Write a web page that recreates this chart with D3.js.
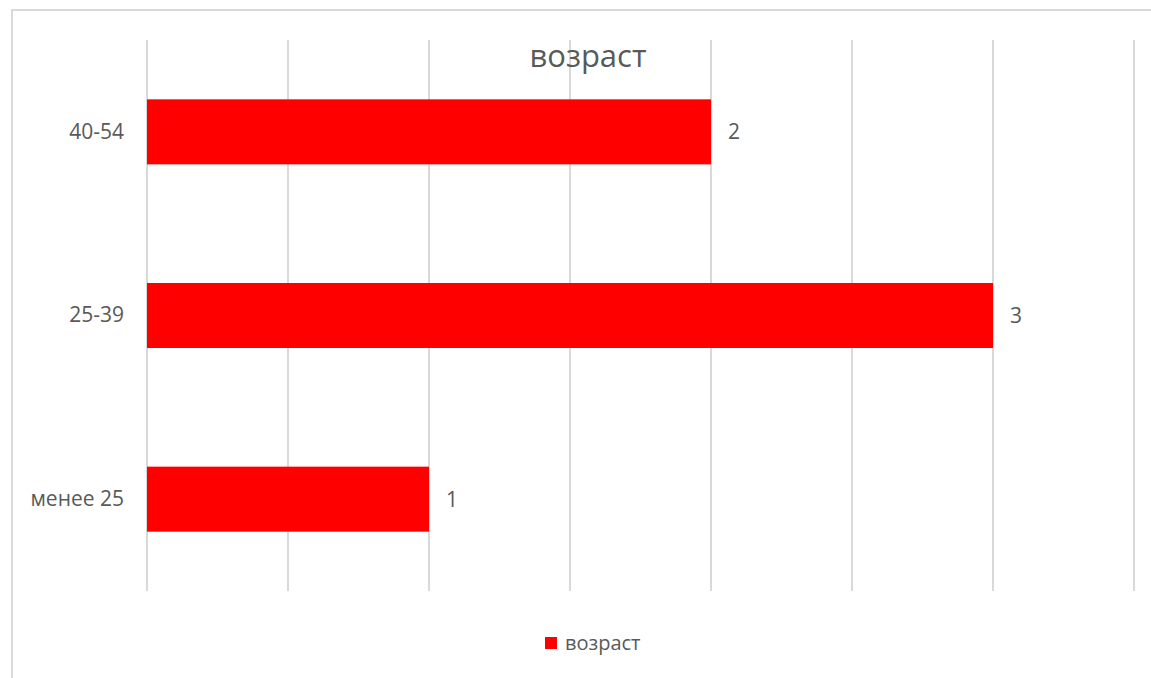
<!DOCTYPE html>
<html>
<head>
<meta charset="utf-8">
<script src="https://cdn.jsdelivr.net/npm/d3@7"></script>
<style>
  html, body { margin: 0; padding: 0; background: #fff; }
  svg { display: block; font-family: "Open Sans", "Noto Sans", sans-serif; }
</style>
</head>
<body>
<svg id="chart" width="1151" height="678"></svg>
<script>
// Age groups, listed top to bottom as drawn
const categories = ["40-54", "25-39", "менее 25"];
const values = [2, 3, 1];
const seriesName = "возраст";
const chartTitle = "возраст";
const gridTicks = [0, 0.5, 1, 1.5, 2, 2.5, 3, 3.5];

const svg = d3.select("#chart");
const W = 1151, H = 678;
const textColor = "#595959";
const gridColor = "#d9d9d9";
const barColor = "#ff0000";
const fontStack = "\"Open Sans\", \"Noto Sans\", sans-serif";

// chart frame
svg.append("rect")
  .attr("x", 12).attr("y", 10)
  .attr("width", W - 12 + 5).attr("height", H - 10 + 5)
  .attr("fill", "#fff")
  .attr("stroke", gridColor).attr("stroke-width", 2);

const plot = { left: 147, right: 1134, top: 40, bottom: 591 };

const x = d3.scaleLinear().domain([0, 3.5]).range([plot.left, plot.right]);
const y = d3.scaleBand()
  .domain(categories)
  .range([plot.top, plot.bottom])
  .paddingInner(0.646)
  .paddingOuter(0.323);

// vertical gridlines
svg.append("g")
  .selectAll("line")
  .data(gridTicks)
  .join("line")
  .attr("x1", d => x(d)).attr("x2", d => x(d))
  .attr("y1", plot.top).attr("y2", plot.bottom)
  .attr("stroke", gridColor).attr("stroke-width", 2);

// title
svg.append("text")
  .attr("x", 588).attr("y", 67)
  .attr("text-anchor", "middle")
  .attr("font-size", 31)
  .attr("fill", textColor)
  .text(chartTitle);

// bars
const rows = categories.map((c, i) => ({ cat: c, val: values[i] }));
svg.append("g")
  .selectAll("rect")
  .data(rows)
  .join("rect")
  .attr("x", x(0))
  .attr("y", d => y(d.cat))
  .attr("width", d => x(d.val) - x(0))
  .attr("height", y.bandwidth())
  .attr("fill", barColor);

// value labels
svg.append("g")
  .selectAll("text")
  .data(rows)
  .join("text")
  .attr("x", d => x(d.val) + 17)
  .attr("y", d => y(d.cat) + y.bandwidth() / 2)
  .attr("dy", "0.36em")
  .attr("font-size", 21)
  .attr("fill", textColor)
  .text(d => d.val);

// category axis
const yAxis = svg.append("g")
  .attr("transform", `translate(${plot.left},0)`)
  .call(d3.axisLeft(y).tickSize(0).tickPadding(23));
yAxis.select(".domain").remove();
yAxis.selectAll("text")
  .attr("font-size", 21)
  .attr("font-family", fontStack)
  .attr("fill", textColor);

// legend
const legend = svg.append("g").attr("transform", "translate(545,637)");
legend.append("rect")
  .attr("width", 12).attr("height", 12)
  .attr("fill", barColor);
legend.append("text")
  .attr("x", 20).attr("y", 6)
  .attr("dy", "0.36em")
  .attr("font-size", 20)
  .attr("fill", textColor)
  .text(seriesName);
</script>
</body>
</html>
